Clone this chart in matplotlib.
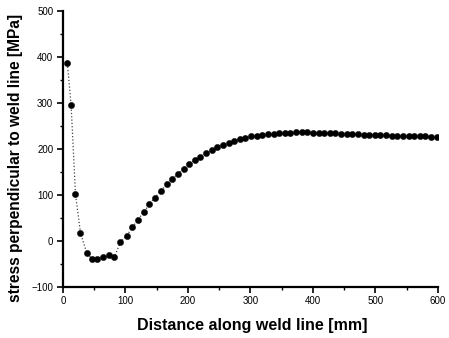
import matplotlib
matplotlib.use("Agg")
import matplotlib.pyplot as plt
from matplotlib.ticker import MultipleLocator

distance = [7, 13, 20, 28, 38, 47, 55, 64, 74, 82, 92, 102, 111, 120, 129, 138,
            147, 157, 166, 175, 184, 193, 202, 211, 220, 229,
            238, 247, 256, 265, 274, 283, 292, 301, 310, 319, 328, 337, 346, 355,
            364, 373, 382, 391, 400, 409, 418, 427, 436, 445, 454, 463, 472, 481,
            490, 499, 508, 517, 526, 535, 544, 553, 562, 571, 580, 589, 598]
stress = [386, 295, 101, 17, -27, -40, -40, -36, -30, -36, -3, 11, 29, 46, 62, 79,
          94, 109, 123, 135, 146, 157, 167, 176, 183, 190,
          197, 203, 208, 213, 217, 221, 224, 227, 229, 231, 232, 233, 234, 235,
          235, 236, 236, 236, 235, 235, 235, 234, 234, 233, 233, 232, 232, 231,
          231, 231, 230, 230, 229, 229, 228, 228, 227, 227, 227, 226, 226]

x_ticks = [0, 100, 200, 300, 400, 500, 600]
y_ticks = [-100, 0, 100, 200, 300, 400, 500]

plt.rcParams['font.family'] = ['Liberation Sans', 'DejaVu Sans']

fig = plt.figure(figsize=(4.49, 3.38), dpi=100)
ax = fig.add_axes([0.1403, 0.1518, 0.8352, 0.8157])

ax.plot(distance, stress, linestyle=':', color='#444444', linewidth=0.9,
        marker='o', markersize=4.5, markerfacecolor='black',
        markeredgecolor='black', markeredgewidth=0.3)

ax.set_xlim(0, 600)
ax.set_ylim(-100, 500)
ax.set_xticks(x_ticks)
ax.set_yticks(y_ticks)
ax.xaxis.set_minor_locator(MultipleLocator(50))
ax.yaxis.set_minor_locator(MultipleLocator(50))

for s in ['top', 'right']:
    ax.spines[s].set_visible(False)
for s in ['left', 'bottom']:
    ax.spines[s].set_linewidth(1.6)

ax.tick_params(which='major', direction='out', length=4, width=1.2,
               labelsize=7, pad=3)
ax.tick_params(which='minor', direction='out', length=2.5, width=1.0)

ax.set_xlabel('Distance along weld line [mm]', fontsize=11.5, fontweight='bold')
ax.set_ylabel('stress perpendicular to weld line [MPa]', fontsize=11.2,
              fontweight='bold')
ax.xaxis.set_label_coords(0.504, -0.115)
ax.yaxis.set_label_coords(-0.107, 0.467)

fig.savefig('out.png', dpi=100)
